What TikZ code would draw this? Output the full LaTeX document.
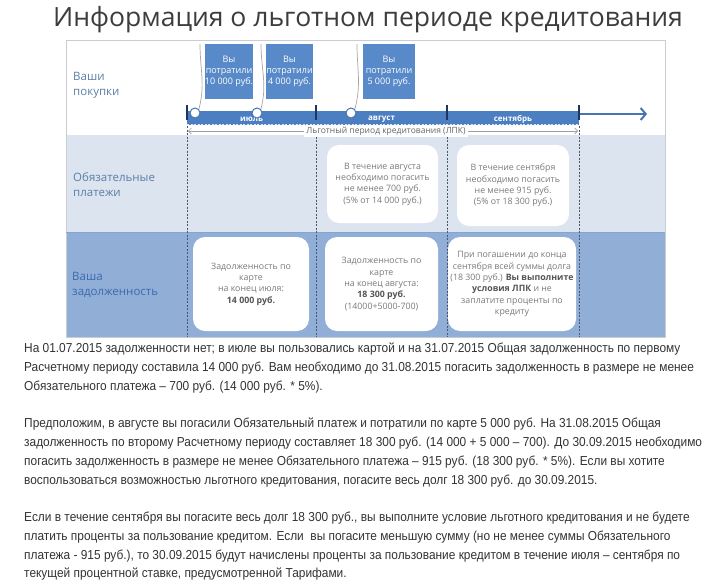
\documentclass[tikz,border=0pt]{standalone}
\usepackage{fontspec}
\setmainfont{Open Sans}
\newfontfamily\parafont[FakeStretch=0.915]{Liberation Sans}
\usetikzlibrary{arrows.meta}
\definecolor{titlec}{HTML}{3D3D3D}
\definecolor{labelc}{HTML}{5A7FA8}
\definecolor{labelthree}{HTML}{3A6AB0}
\definecolor{rowtwo}{HTML}{DCE4EF}
\definecolor{rowthree}{HTML}{91AED6}
\definecolor{pboxc}{HTML}{5889C8}
\definecolor{barc}{HTML}{4C7EC2}
\definecolor{tickc}{HTML}{1F3560}
\definecolor{arrowc}{HTML}{4A75B5}
\definecolor{boxtext}{HTML}{7A7A7A}
\definecolor{boxbold}{HTML}{555555}
\definecolor{parac}{HTML}{333333}
\definecolor{framec}{HTML}{C8CDD3}
\definecolor{dashc}{HTML}{4A5670}
\begin{document}
\begin{tikzpicture}[x=1pt,y=-1pt,
  titlestyle/.style={font=\fontsize{26.5}{30}\selectfont, text=titlec, inner sep=0pt},
  rowlabel/.style={font=\fontsize{11.5}{15}\selectfont, text=labelc, align=left, anchor=west, inner sep=0pt},
  pbox/.style={fill=pboxc, text=white, font=\fontsize{9}{11}\selectfont, align=center, inner sep=0pt, minimum height=55},
  wbox/.style={fill=white, rounded corners=12pt, text=boxtext, font=\fontsize{8.8}{11.3}\selectfont, align=center, inner sep=0pt},
  circ/.style={circle, fill=white, draw=arrowc, line width=1pt, minimum size=10, inner sep=0pt},
  leader/.style={draw=gray!70, line width=0.7pt},
  month/.style={font=\fontsize{8}{9}\selectfont\bfseries, text=white, inner sep=0pt},
  tickline/.style={draw=tickc, line width=2pt},
  vdash/.style={draw=dashc, line width=0.6pt, dash pattern=on 2pt off 1.5pt},
  lpkarrow/.style={draw=gray!75, line width=0.6pt, -{Straight Barb[length=3pt,width=6pt]}},
  mainarrow/.style={draw=arrowc, line width=2.5pt, -{Straight Barb[length=5pt,width=12pt,line width=2pt]}},
  para/.style={font=\parafont\fontsize{13}{19}\selectfont, text=parac, anchor=west, inner sep=0pt, text height=10pt, text depth=3pt}
]
\fill[white] (0,0) rectangle (726,581);
\useasboundingbox (0,0) rectangle (726,581);

% title
\node[titlestyle] (title) at (368,20) {Информация о льготном периоде кредитования};

% frame and rows
\fill[white] (66,40) rectangle (665,135);
\fill[rowtwo] (66,135) rectangle (665,232);
\fill[rowthree] (66,232) rectangle (665,337);
\draw[framec, line width=0.8pt] (66,40) rectangle (665,337);
\draw[barc!70, line width=0.8pt] (66,232) -- (665,232);

% row labels
\node[rowlabel] (lab1) at (73,85) {Ваши\\покупки};
\node[rowlabel] (lab2) at (73,185) {Обязательные\\платежи};
\node[rowlabel, text=labelthree] (lab3) at (72,285) {Ваша\\задолженность};

% vertical dashed lines
\foreach \xx in {187,316,447,579} {
  \draw[vdash] (\xx,126) -- (\xx,337);
}

% timeline bar
\node[fill=barc, minimum width=392, minimum height=14, inner sep=0pt] (bar) at (383,118) {};
\draw[white!80!barc, line width=0.6pt, dash pattern=on 2pt off 1.5pt] (187,124.5) -- (579,124.5);
\coordinate (astart) at (579,114);
\coordinate (aend) at (647,114);
\draw[mainarrow] (astart) -- (aend);
\foreach \xx in {187,316,447,579} {
  \draw[tickline] (\xx,105) -- (\xx,120);
}
\node[month] (m1) at (251.5,119.5) {июль};
\node[month] (m2) at (381.5,119.5) {август};
\node[month] (m3) at (513,119.5) {сентябрь};

% purchase boxes
\node[pbox, minimum width=48] (p1) at (229,71.5) {Вы\\потратили\\10 000 руб.};
\node[pbox, minimum width=47] (p2) at (289.5,71.5) {Вы\\потратили\\4 000 руб.};
\node[pbox, minimum width=52] (p3) at (389,71.5) {Вы\\потратили\\5 000 руб.};

% circles and leaders
\node[circ] (c1) at (195,113) {};
\node[circ] (c2) at (257,113) {};
\node[circ] (c3) at (351,113) {};
\coordinate (l1) at (200,44);
\coordinate (l2) at (261,44);
\coordinate (l3) at (357,44);
\draw[leader] (c1.north east) to[out=75,in=-90] (l1);
\draw[leader] (c2.north east) to[out=75,in=-90] (l2);
\draw[leader] (c3.north east) to[out=75,in=-90] (l3);

% LPK
\node[font=\fontsize{8.5}{10}\selectfont, text=black!60, inner sep=2pt, fill=white] (lpk) at (386,131) {Льготный период кредитования (ЛПК)};
\coordinate (lpkL) at (188,131);
\coordinate (lpkR) at (578,131);
\draw[lpkarrow] (lpk.west) -- (lpkL);
\draw[lpkarrow] (lpk.east) -- (lpkR);

% row 2 boxes
\node[wbox, minimum width=111, minimum height=78] (a1) at (382.5,184) {В течение августа\\необходимо погасить\\не менее 700 руб.\\(5\% от 14 000 руб.)};
\node[wbox, minimum width=112, minimum height=81] (a2) at (513,185.5) {В течение сентября\\необходимо погасить\\не менее 915 руб.\\(5\% от 18 300 руб.)};

% row 3 boxes
\node[wbox, minimum width=116, minimum height=94] (b1) at (251,284) {Задолженность по\\карте\\на конец июля:\\{\color{boxbold}\bfseries 14 000 руб.}};
\node[wbox, minimum width=113, minimum height=94] (b2) at (381.5,284) {Задолженность по\\карте\\на конец августа:\\{\color{boxbold}\bfseries 18 300 руб.}\\(14000+5000-700)};
\node[wbox, minimum width=128, minimum height=94] (b3) at (512,284) {При погашении до конца\\сентября всей суммы долга\\(18 300 руб.) {\color{boxbold}\bfseries Вы выполните}\\{\color{boxbold}\bfseries условия ЛПК} и не\\заплатите проценты по\\кредиту};

% paragraphs
\node[para] (t1) at (24,349) {На 01.07.2015 задолженности нет; в июле вы пользовались картой и на 31.07.2015 Общая задолженность по первому};
\node[para] (t2) at (24,368) {Расчетному периоду составила 14 000 руб. Вам необходимо до 31.08.2015 погасить задолженность в размере не менее};
\node[para] (t3) at (24,387) {Обязательного платежа – 700 руб. (14 000 руб. * 5\%).};
\node[para] (t4) at (24,424) {Предположим, в августе вы погасили Обязательный платеж и потратили по карте 5 000 руб. На 31.08.2015 Общая};
\node[para] (t5) at (24,443) {задолженность по второму Расчетному периоду составляет 18 300 руб. (14 000 + 5 000 – 700). До 30.09.2015 необходимо};
\node[para] (t6) at (24,462) {погасить задолженность в размере не менее Обязательного платежа – 915 руб. (18 300 руб. * 5\%). Если вы хотите};
\node[para] (t7) at (24,481) {воспользоваться возможностью льготного кредитования, погасите весь долг 18 300 руб. до 30.09.2015.};
\node[para] (t8) at (24,518) {Если в течение сентября вы погасите весь долг 18 300 руб., вы выполните условие льготного кредитования и не будете};
\node[para] (t9) at (24,537) {платить проценты за пользование кредитом. Если\ \ вы погасите меньшую сумму (но не менее суммы Обязательного};
\node[para] (t10) at (24,556) {платежа - 915 руб.), то 30.09.2015 будут начислены проценты за пользование кредитом в течение июля – сентября по};
\node[para] (t11) at (24,574) {текущей процентной ставке, предусмотренной Тарифами.};
\end{tikzpicture}
\end{document}
